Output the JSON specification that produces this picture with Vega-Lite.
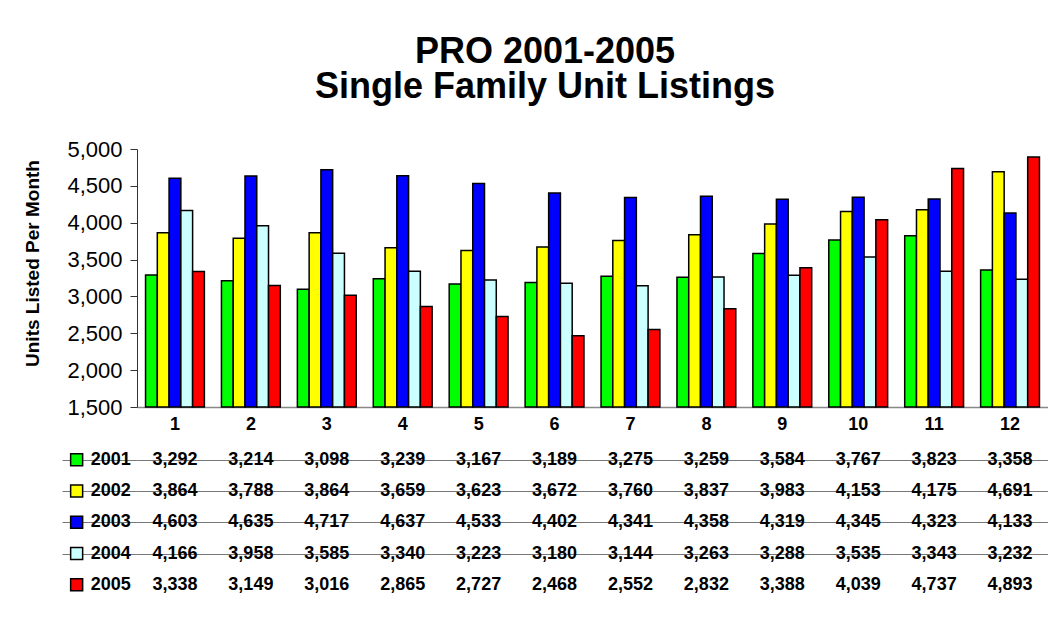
{
  "$schema": "https://vega.github.io/schema/vega-lite/v6.json",
  "background": "white",
  "padding": {"left": 23, "top": 34, "right": 0, "bottom": 0},
  "autosize": {"type": "pad"},
  "title": {
    "text": ["PRO 2001-2005", "Single Family Unit Listings"],
    "font": "Liberation Sans",
    "fontSize": 36,
    "fontWeight": "bold",
    "lineHeight": 35,
    "anchor": "middle",
    "offset": 32,
    "dx": 9,
    "color": "black"
  },
  "config": {
    "font": "Liberation Sans",
    "view": {"stroke": null},
    "axis": {"labelFont": "Liberation Sans", "titleFont": "Liberation Sans"},
    "legend": {"labelFont": "Liberation Sans"}
  },
  "datasets": {
    "listings": [
      {"month": 1, "year": 2001, "value": 3292}, {"month": 2, "year": 2001, "value": 3214}, {"month": 3, "year": 2001, "value": 3098}, {"month": 4, "year": 2001, "value": 3239}, {"month": 5, "year": 2001, "value": 3167}, {"month": 6, "year": 2001, "value": 3189}, {"month": 7, "year": 2001, "value": 3275}, {"month": 8, "year": 2001, "value": 3259}, {"month": 9, "year": 2001, "value": 3584}, {"month": 10, "year": 2001, "value": 3767}, {"month": 11, "year": 2001, "value": 3823}, {"month": 12, "year": 2001, "value": 3358},
      {"month": 1, "year": 2002, "value": 3864}, {"month": 2, "year": 2002, "value": 3788}, {"month": 3, "year": 2002, "value": 3864}, {"month": 4, "year": 2002, "value": 3659}, {"month": 5, "year": 2002, "value": 3623}, {"month": 6, "year": 2002, "value": 3672}, {"month": 7, "year": 2002, "value": 3760}, {"month": 8, "year": 2002, "value": 3837}, {"month": 9, "year": 2002, "value": 3983}, {"month": 10, "year": 2002, "value": 4153}, {"month": 11, "year": 2002, "value": 4175}, {"month": 12, "year": 2002, "value": 4691},
      {"month": 1, "year": 2003, "value": 4603}, {"month": 2, "year": 2003, "value": 4635}, {"month": 3, "year": 2003, "value": 4717}, {"month": 4, "year": 2003, "value": 4637}, {"month": 5, "year": 2003, "value": 4533}, {"month": 6, "year": 2003, "value": 4402}, {"month": 7, "year": 2003, "value": 4341}, {"month": 8, "year": 2003, "value": 4358}, {"month": 9, "year": 2003, "value": 4319}, {"month": 10, "year": 2003, "value": 4345}, {"month": 11, "year": 2003, "value": 4323}, {"month": 12, "year": 2003, "value": 4133},
      {"month": 1, "year": 2004, "value": 4166}, {"month": 2, "year": 2004, "value": 3958}, {"month": 3, "year": 2004, "value": 3585}, {"month": 4, "year": 2004, "value": 3340}, {"month": 5, "year": 2004, "value": 3223}, {"month": 6, "year": 2004, "value": 3180}, {"month": 7, "year": 2004, "value": 3144}, {"month": 8, "year": 2004, "value": 3263}, {"month": 9, "year": 2004, "value": 3288}, {"month": 10, "year": 2004, "value": 3535}, {"month": 11, "year": 2004, "value": 3343}, {"month": 12, "year": 2004, "value": 3232},
      {"month": 1, "year": 2005, "value": 3338}, {"month": 2, "year": 2005, "value": 3149}, {"month": 3, "year": 2005, "value": 3016}, {"month": 4, "year": 2005, "value": 2865}, {"month": 5, "year": 2005, "value": 2727}, {"month": 6, "year": 2005, "value": 2468}, {"month": 7, "year": 2005, "value": 2552}, {"month": 8, "year": 2005, "value": 2832}, {"month": 9, "year": 2005, "value": 3388}, {"month": 10, "year": 2005, "value": 4039}, {"month": 11, "year": 2005, "value": 4737}, {"month": 12, "year": 2005, "value": 4893}
    ]
  },
  "spacing": 37,
  "bounds": "flush",
  "resolve": {
    "scale": {"color": "independent", "x": "independent", "y": "independent"},
    "legend": {"color": "independent"}
  },
  "vconcat": [
    {
      "width": 911,
      "height": 258,
      "data": {"name": "listings"},
      "mark": {"type": "bar", "stroke": "black", "strokeWidth": 1.5},
      "encoding": {
        "x": {
          "field": "month", "type": "ordinal",
          "scale": {"paddingInner": 0.225, "paddingOuter": 0.1125},
          "axis": {"title": null, "labelAngle": 0, "labelFontSize": 18, "labelFontWeight": "bold", "labelColor": "black", "ticks": false, "tickSize": 0, "labelPadding": 8, "domainColor": "#888888", "domainWidth": 1.5}
        },
        "xOffset": {"field": "year", "type": "nominal", "scale": {"paddingInner": 0, "paddingOuter": 0}},
        "y": {
          "field": "value", "type": "quantitative",
          "scale": {"domain": [1500, 5000], "zero": false, "nice": false},
          "axis": {"title": "Units Listed Per Month", "titleFontSize": 19, "titleFontWeight": "bold", "titleColor": "black", "titlePadding": 24, "titleY": 114, "values": [1500, 2000, 2500, 3000, 3500, 4000, 4500, 5000], "format": ",.0f", "labelFontSize": 22, "labelColor": "black", "labelPadding": 8, "tickSize": 7, "tickColor": "#333333", "domainColor": "#333333", "grid": false}
        },
        "y2": {"datum": 1500},
        "color": {
          "field": "year", "type": "nominal",
          "scale": {"domain": [2001, 2002, 2003, 2004, 2005], "range": ["#00ff00", "#ffff00", "#0000ff", "#ccffff", "#ff0000"]},
          "legend": null
        }
      }
    },
    {
      "width": 911,
      "height": 156.5,
      "data": {"name": "listings"},
      "encoding": {
        "x": {"field": "month", "type": "ordinal", "axis": null, "scale": {"paddingInner": 0, "paddingOuter": 0}},
        "y": {
          "field": "year", "type": "ordinal",
          "scale": {"paddingInner": 0, "paddingOuter": 0},
          "axis": {"title": null, "labels": false, "domain": false, "grid": true, "gridColor": "#777777", "gridWidth": 1.2, "ticks": true, "tickSize": 75, "tickColor": "#777777", "tickWidth": 1.2, "bandPosition": 1, "values": [2001, 2002, 2003, 2004]}
        }
      },
      "layer": [
        {
          "mark": {"type": "point", "shape": "square", "filled": true, "opacity": 0},
          "encoding": {
            "color": {
              "field": "year", "type": "nominal",
              "scale": {"domain": [2001, 2002, 2003, 2004, 2005], "range": ["#00ff00", "#ffff00", "#0000ff", "#ccffff", "#ff0000"]},
              "legend": {"title": null, "orient": "left", "offset": -77, "padding": 6.65, "rowPadding": 13.3, "labelFontSize": 18, "labelFontWeight": "bold", "labelColor": "black", "labelOffset": 5, "symbolType": "square", "symbolSize": 144, "symbolStrokeColor": "black", "symbolStrokeWidth": 1.5, "symbolOpacity": 1}
            }
          }
        },
        {
          "mark": {"type": "text", "fontSize": 18, "fontWeight": "bold", "color": "black"},
          "encoding": {"text": {"field": "value", "type": "quantitative", "format": ",.0f"}}
        }
      ]
    }
  ]
}
